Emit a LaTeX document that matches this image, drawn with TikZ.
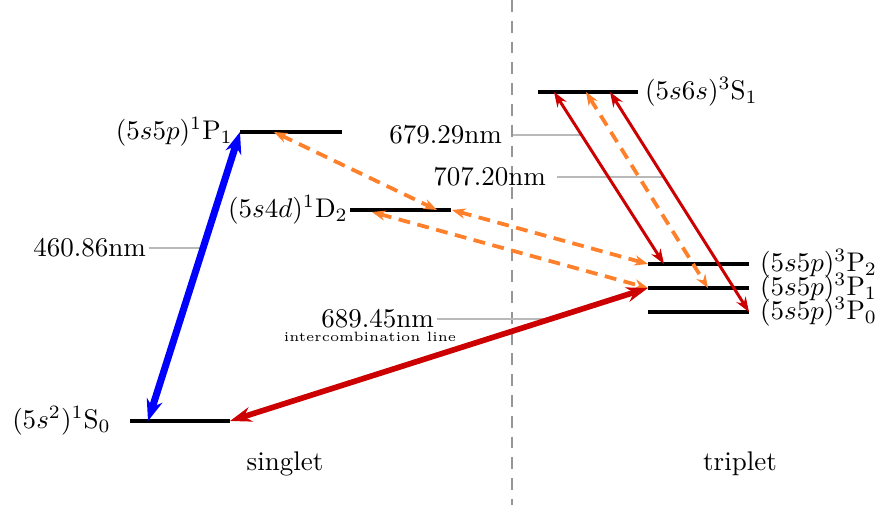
\documentclass[tikz,border=0pt]{standalone}
\usetikzlibrary{arrows.meta}
\definecolor{myred}{RGB}{204,0,0}
\definecolor{myorange}{RGB}{255,128,42}
\definecolor{myblue}{RGB}{0,0,255}
\definecolor{lgray}{RGB}{185,185,185}
\definecolor{dgray}{RGB}{150,150,150}
\begin{document}
\begin{tikzpicture}[x=0.37037pt,y=-0.37037pt,
  level/.style={line width=1.5pt,black},
  gline/.style={line width=0.6pt,lgray},
  bluearr/.style={line width=2.6pt,myblue,{Stealth[length=8pt,width=6pt]}-{Stealth[length=8pt,width=6pt]}},
  redthick/.style={line width=2.1pt,myred,{Stealth[length=8pt,width=5.5pt]}-{Stealth[length=8pt,width=5.5pt]}},
  redthin/.style={line width=1.1pt,myred,{Stealth[length=5.5pt,width=4pt]}-{Stealth[length=5.5pt,width=4pt]}},
  orarr/.style={line width=1.4pt,myorange,dash pattern=on 4.4pt off 2.8pt,{Stealth[length=5pt,width=3.8pt]}-{Stealth[length=5pt,width=3.8pt]}},
  lab/.style={inner sep=1pt},
]
\useasboundingbox (0,0) rectangle (886,505);
% divider
\coordinate (dtop) at (512,0);
\coordinate (dbot) at (512,505);
\draw[dgray,line width=0.8pt,dash pattern=on 4.4pt off 3.3pt] (dtop) -- (dbot);
% level endpoints
\coordinate (S0a) at (130,421); \coordinate (S0b) at (230,421);
\coordinate (P1a) at (240,132); \coordinate (P1b) at (342,132);
\coordinate (D2a) at (350,210); \coordinate (D2b) at (451,210);
\coordinate (S1a) at (538,92);  \coordinate (S1b) at (638,92);
\coordinate (TP2a) at (648,264); \coordinate (TP2b) at (749,264);
\coordinate (TP1a) at (648,288); \coordinate (TP1b) at (749,288);
\coordinate (TP0a) at (648,312); \coordinate (TP0b) at (749,312);
\draw[level] (S0a) -- (S0b);
\draw[level] (P1a) -- (P1b);
\draw[level] (D2a) -- (D2b);
\draw[level] (S1a) -- (S1b);
\draw[level] (TP2a) -- (TP2b);
\draw[level] (TP1a) -- (TP1b);
\draw[level] (TP0a) -- (TP0b);
% level labels
\node[lab,anchor=east] (lS0) at (114,421) {$(5s^2)^1\mathrm{S}_0$};
\node[lab,anchor=east] (lP1) at (236,132) {$(5s5p)^1\mathrm{P}_1$};
\node[lab,anchor=east] (lD2) at (351,210) {$(5s4d)^1\mathrm{D}_2$};
\node[lab,anchor=west] (lS1) at (642,92) {$(5s6s)^3\mathrm{S}_1$};
\node[lab,anchor=west] (lP2) at (757,264) {$(5s5p)^3\mathrm{P}_2$};
\node[lab,anchor=west] (lP1t) at (757,288) {$(5s5p)^3\mathrm{P}_1$};
\node[lab,anchor=west] (lP0) at (757,312) {$(5s5p)^3\mathrm{P}_0$};
\node (sing) at (285,464) {singlet};
\node (trip) at (740,464) {triplet};
% arrow endpoints
\coordinate (bA) at (148,421); \coordinate (bB) at (240,132);
\coordinate (rA) at (230,421); \coordinate (rB) at (648,288);
\coordinate (t1A) at (554,92); \coordinate (t1B) at (664,264);
\coordinate (t2A) at (610,92); \coordinate (t2B) at (749,312);
\coordinate (o3A) at (586,92); \coordinate (o3B) at (708,288);
\coordinate (o1A) at (274,132); \coordinate (o1B) at (437,210);
\coordinate (o2A) at (452,210); \coordinate (o2B) at (648,264);
\coordinate (o4A) at (372,212); \coordinate (o4B) at (648,288);
% wavelength labels
\node[lab,anchor=east] (w460) at (149,248) {460.86nm};
\coordinate (w460e) at (200,248);
\draw[gline] (w460.east) -- (w460e);
\node[lab,anchor=east] (w679) at (505,135) {679.29nm};
\coordinate (w679e) at (582,135);
\draw[gline] ([xshift=3pt]w679.east) -- (w679e);
\node[lab,anchor=east] (w707) at (549,177) {707.20nm};
\coordinate (w707e) at (665,177);
\draw[gline] ([xshift=3pt]w707.east) -- (w707e);
\node[lab,anchor=east] (w689) at (437,319) {689.45nm};
\coordinate (w689e) at (545,319);
\draw[gline] (w689.east) -- (w689e);
\node (icl) at (370,337) {\tiny intercombination line};
% transitions
\draw[orarr] (o1A) -- (o1B);
\draw[orarr] (o2A) -- (o2B);
\draw[orarr] (o4A) -- (o4B);
\draw[orarr] (o3A) -- (o3B);
\draw[redthin] (t1A) -- (t1B);
\draw[redthin] (t2A) -- (t2B);
\draw[bluearr] (bA) -- (bB);
\draw[redthick] (rA) -- (rB);
\end{tikzpicture}
\end{document}
